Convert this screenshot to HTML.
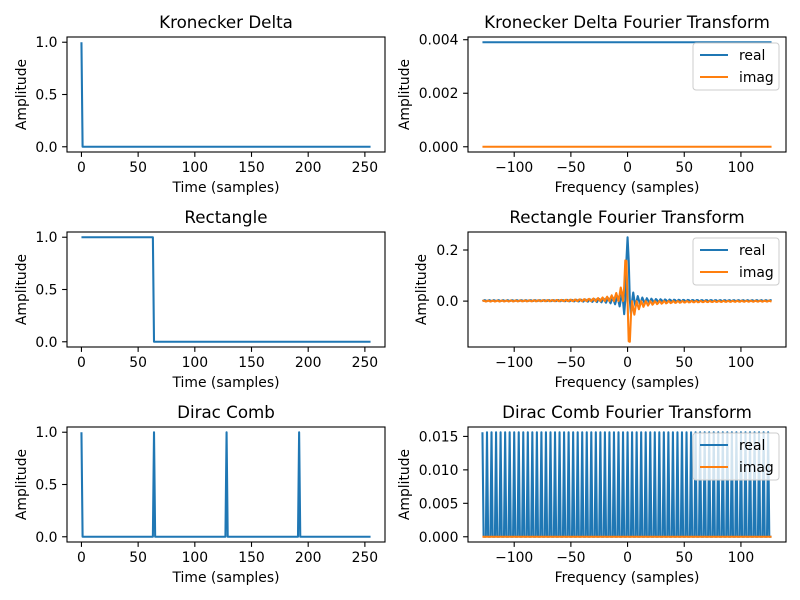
<!DOCTYPE html>
<html><head><meta charset="utf-8"><style>
html,body{margin:0;padding:0;background:#fff}
svg{display:block;font-family:"DejaVu Sans","Liberation Sans",sans-serif}
</style></head><body>
<svg id="fig" width="800" height="600" viewBox="0 0 800 600" xmlns="http://www.w3.org/2000/svg"></svg>
<script>
const N = 256;
const deltaPositions = [0];
const rectRange = [0, 64];
const combPositions = [0, 64, 128, 192];
const leftXTicks = [0, 50, 100, 150, 200, 250];
const leftYTicks = [0.0, 0.5, 1.0];
const leftYTickLabels = ["0.0", "0.5", "1.0"];
const rightXTicks = [-100, -50, 0, 50, 100];
const rightXTickLabels = ["\u2212100", "\u221250", "0", "50", "100"];
const deltaFTYTicks = [0, 0.002, 0.004];
const deltaFTYTickLabels = ["0.000", "0.002", "0.004"];
const rectFTYTicks = [0.0, 0.2];
const rectFTYTickLabels = ["0.0", "0.2"];
const combFTYTicks = [0, 0.005, 0.010, 0.015];
const combFTYTickLabels = ["0.000", "0.005", "0.010", "0.015"];
const titles = ["Kronecker Delta", "Kronecker Delta Fourier Transform", "Rectangle", "Rectangle Fourier Transform", "Dirac Comb", "Dirac Comb Fourier Transform"];

function buildSignal(type){
  const s = new Array(N).fill(0);
  if(type==='delta') deltaPositions.forEach(p=>s[p]=1);
  if(type==='rect') for(let i=rectRange[0];i<rectRange[1];i++) s[i]=1;
  if(type==='comb') combPositions.forEach(p=>s[p]=1);
  return s;
}
function dftShift(sig){
  const re=[],im=[],fr=[];
  for(let j=0;j<N;j++){
    const k=j-N/2; let r=0,m=0;
    for(let n=0;n<N;n++){ if(!sig[n]) continue; const a=-2*Math.PI*k*n/N; r+=sig[n]*Math.cos(a); m+=sig[n]*Math.sin(a);}
    re.push(r/N); im.push(m/N); fr.push(k);
  }
  return {re,im,fr};
}
const svg=document.getElementById('fig');
const NS='http://www.w3.org/2000/svg';
function mk(tag,attrs,parent){const e=document.createElementNS(NS,tag);for(const k in attrs)e.setAttribute(k,attrs[k]);(parent||svg).appendChild(e);return e;}

function panel(cfg){
  const g=mk('g',{});
  
  
  const {L,R,T,B}=cfg;
  let ymin=Infinity,ymax=-Infinity,xmin=Infinity,xmax=-Infinity;
  cfg.series.forEach(s=>{s.y.forEach(v=>{ymin=Math.min(ymin,v);ymax=Math.max(ymax,v);});s.x.forEach(v=>{xmin=Math.min(xmin,v);xmax=Math.max(xmax,v);});});
  const dy=(ymax-ymin)||1, dx=xmax-xmin;
  ymin-=dy*0.05; ymax+=dy*0.05; xmin-=dx*0.05; xmax+=dx*0.05;
  const sx=v=>L+(v-xmin)/(xmax-xmin)*(R-L);
  const sy=v=>B-(v-ymin)/(ymax-ymin)*(B-T);
  const cp='cp'+cfg.name;
  const cl=mk('clipPath',{id:cp},g); mk('rect',{x:L,y:T,width:R-L,height:B-T},cl);
  cfg.series.forEach(s=>{
    const pts=s.x.map((x,i)=>sx(x).toFixed(2)+','+sy(s.y[i]).toFixed(2)).join(' ');
    const pl=mk('polyline',{points:pts,fill:'none',stroke:s.color,'stroke-width':2.08,'stroke-linejoin':'round','clip-path':'url(#'+cp+')'},g);
    
    
  });
  const fr=mk('rect',{x:L,y:T,width:R-L,height:B-T,fill:'none',stroke:'#000','stroke-width':1.1},g);
  
  
  cfg.xt.forEach((t,i)=>{
    const x=sx(t);
    mk('line',{x1:x,x2:x,y1:B,y2:B+4.9,stroke:'#000','stroke-width':1.1},g);
    const tx=mk('text',{x:x,y:B+20,'text-anchor':'middle','font-size':13.9,fill:'#000'},g);
    tx.textContent=cfg.xtl[i];
    
    
  });
  cfg.yt.forEach((t,i)=>{
    const y=sy(t);
    mk('line',{x1:L-4.9,x2:L,y1:y,y2:y,stroke:'#000','stroke-width':1.1},g);
    const tx=mk('text',{x:L-9.5,y:y+5,'text-anchor':'end','font-size':13.9,fill:'#000'},g);
    tx.textContent=cfg.ytl[i];
    
    
  });
  const ti=mk('text',{x:(L+R)/2,y:T-9,'text-anchor':'middle','font-size':16.7,fill:'#000'},g);
  ti.textContent=cfg.title;
  
  
  const xl=mk('text',{x:(L+R)/2,y:B+40,'text-anchor':'middle','font-size':13.9,fill:'#000'},g);
  xl.textContent=cfg.xlabel;
  
  
  const yc=(T+B)/2;
  const yl=mk('text',{x:cfg.ylx,y:yc,'text-anchor':'middle','font-size':13.9,fill:'#000',transform:'rotate(-90 '+cfg.ylx+' '+yc+')','dominant-baseline':'central'},g);
  yl.textContent='Amplitude';
  
  
  if(cfg.legend){
    const lg=mk('g',{},g);
    
    
    mk('rect',{x:R-93,y:T+6,width:86,height:47,rx:3,fill:'#fff','fill-opacity':0.8,stroke:'#ccc','stroke-width':1},lg);
    cfg.series.forEach((s,i)=>{
      const y=T+18+i*22;
      const e=mk('g',{},lg);
      
      
      mk('line',{x1:R-86,x2:R-58,y1:y,y2:y,stroke:s.color,'stroke-width':2.08},e);
      const t=mk('text',{x:R-47,y:y+5,'font-size':13.9,fill:'#000'},e);
      t.textContent=s.label;
    });
  }
}
const tIdx=[...Array(N).keys()];
const sigs=[buildSignal('delta'),buildSignal('rect'),buildSignal('comb')];
const rows=[{T:37,B:152},{T:232,B:347},{T:427,B:542}];
const ftY=[[deltaFTYTicks,deltaFTYTickLabels,405],[rectFTYTicks,rectFTYTickLabels,422],[combFTYTicks,combFTYTickLabels,405]];
const names=['kronecker','rectangle','dirac-comb'];
sigs.forEach((s,r)=>{
  panel({name:names[r]+'-panel',L:67,R:385,T:rows[r].T,B:rows[r].B,title:titles[r*2],xlabel:'Time (samples)',ylx:22,
    xt:leftXTicks,xtl:leftXTicks.map(String),yt:leftYTicks,ytl:leftYTickLabels,
    series:[{name:'signal-line',x:tIdx,y:s,color:'#1f77b4'}]});
  const f=dftShift(s);
  panel({name:names[r]+'-ft-panel',L:468,R:786,T:rows[r].T,B:rows[r].B,title:titles[r*2+1],xlabel:'Frequency (samples)',ylx:ftY[r][2],
    xt:rightXTicks,xtl:rightXTickLabels,yt:ftY[r][0],ytl:ftY[r][1],legend:true,
    series:[{name:'real-line',label:'real',x:f.fr,y:f.re,color:'#1f77b4'},{name:'imag-line',label:'imag',x:f.fr,y:f.im,color:'#ff7f0e'}]});
});
</script>
</body></html>
